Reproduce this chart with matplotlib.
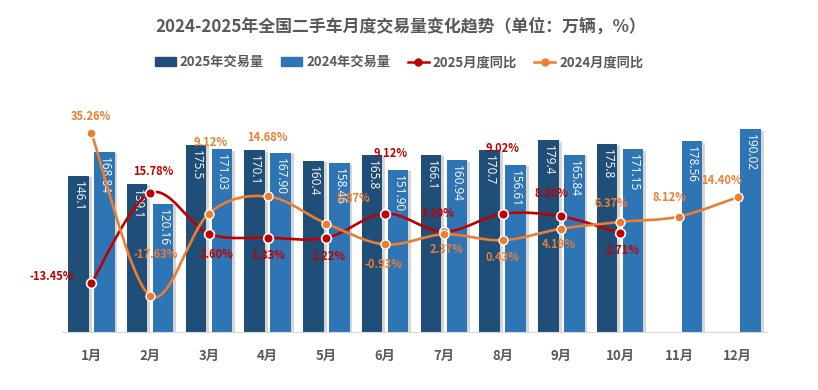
import numpy as np
import matplotlib
matplotlib.use("Agg")
import matplotlib.pyplot as plt
from matplotlib.path import Path
from matplotlib.patches import PathPatch, Patch
from matplotlib.lines import Line2D
import matplotlib.patheffects as pe

plt.rcParams['font.family'] = ['Noto Sans CJK SC', 'DejaVu Sans']

# data
months = ['1月', '2月', '3月', '4月', '5月', '6月', '7月', '8月', '9月', '10月', '11月', '12月']
vol_2025 = [146.1, 139.1, 175.5, 170.1, 160.4, 165.8, 166.1, 170.7, 179.4, 175.8]
vol_2024 = [168.84, 120.16, 171.03, 167.90, 158.46, 151.90, 160.94, 156.61, 165.84, 171.15, 178.56, 190.02]
yoy_2025 = [-13.45, 15.78, 2.60, 1.33, 1.22, 9.12, 3.20, 9.02, 8.20, 2.71]
yoy_2024 = [35.26, -17.63, 9.12, 14.68, 5.87, -0.93, 2.37, 0.43, 4.19, 6.37, 8.12, 14.40]

# label offsets in pixels (style only)
off_2025 = [(-40, 7), (3, 22), (8, -21), (0, -18), (2, -19), (5, 60), (-6, 18), (0, 65), (-10, 23), (2, -17)]
off_2024 = [(0, 17), (6, 41), (2, 71), (0, 59), (27, 25), (-2, -20), (3, -15), (0, -17), (-3, -16), (-9, 18), (-9, 19), (-16, 17)]

C25_BAR = '#1F4E79'
C24_BAR = '#2E75B6'
C25_LINE = '#C00000'
C24_LINE = '#ED7D31'
GRAY = '#595959'


def smooth_path(xs, ys):
    pts = np.column_stack([xs, ys])
    n = len(pts)
    verts = [pts[0]]
    codes = [Path.MOVETO]
    for i in range(n - 1):
        p0 = pts[i - 1] if i > 0 else pts[i]
        p1 = pts[i]
        p2 = pts[i + 1]
        p3 = pts[i + 2] if i + 2 < n else pts[i + 1]
        verts += [p1 + (p2 - p0) / 6, p2 - (p3 - p1) / 6, p2]
        codes += [Path.CURVE4] * 3
    return Path(verts, codes)


fig = plt.figure(figsize=(8.18, 3.9), dpi=100)
ax = fig.add_axes([62 / 818, 1 - 332 / 390, 705 / 818, 237 / 390])
ax2 = ax.twinx()

x = np.arange(len(months))
x25 = x[:len(vol_2025)]
w = 0.35
shadow = [pe.SimplePatchShadow(offset=(2, -1), shadow_rgbFace='#888888', alpha=0.35), pe.Normal()]
b25 = ax.bar(x25 - 0.22, vol_2025, w, color=C25_BAR, path_effects=shadow, zorder=2)
b24 = ax.bar(x + 0.22, vol_2024, w, color=C24_BAR, path_effects=shadow, zorder=2)

for bars, vals, fmt in [(b25, vol_2025, '{:.1f}'), (b24, vol_2024, '{:.2f}')]:
    for r, v in zip(bars, vals):
        ax.annotate(fmt.format(v), (r.get_x() + r.get_width() / 2, v),
                    xytext=(0, -5), textcoords='offset pixels',
                    rotation=270, ha='center', va='top', color='white',
                    fontsize=8.5, family=['Open Sans', 'DejaVu Sans'], zorder=3)

ax.set_xlim(-0.5, 11.5)
ax.set_ylim(0, 222)
ax.set_yticks([])
ax.set_xticks(x)
ax.set_xticklabels(months, fontsize=9.5, fontweight='bold', color=GRAY)
ax.tick_params(axis='x', length=0, pad=12)
for s in ['top', 'right', 'left']:
    ax.spines[s].set_visible(False)
ax.spines['bottom'].set_color('#D9D9D9')

ax2.set_ylim(-29.35, 47.6)
ax2.set_yticks([])
for s in ax2.spines.values():
    s.set_visible(False)

ax2.add_patch(PathPatch(smooth_path(x25, yoy_2025), fill=False, edgecolor=C25_LINE, lw=1.9, zorder=4))
ax2.plot(x25, yoy_2025, 'o', color=C25_LINE, mec='white', mew=1.2, ms=7, zorder=5)
ax2.add_patch(PathPatch(smooth_path(x, yoy_2024), fill=False, edgecolor=C24_LINE, lw=1.9, zorder=6))
ax2.plot(x, yoy_2024, 'o', color=C24_LINE, mec='white', mew=1.0, ms=6.5, zorder=7)

for xs, vals, offs, c in [(x25, yoy_2025, off_2025, C25_LINE), (x, yoy_2024, off_2024, C24_LINE)]:
    for xi, v, (dx, dy) in zip(xs, vals, offs):
        ax2.annotate(f'{v:.2f}%', (xi, v), xytext=(dx, dy), textcoords='offset pixels',
                     ha='center', va='center', color=c, fontsize=8, fontweight='bold', zorder=8)

fig.text(401 / 818, 1 - 27 / 390, '2024-2025年全国二手车月度交易量变化趋势（单位：万辆，%）',
         ha='center', va='center', fontsize=12.2, fontweight='bold', color=GRAY)

handles = [Patch(color=C25_BAR), Patch(color=C24_BAR),
           Line2D([], [], color=C25_LINE, marker='o', ms=5, lw=1.8),
           Line2D([], [], color=C24_LINE, marker='o', ms=5, lw=1.8)]
labels = ['2025年交易量', '2024年交易量', '2025月度同比', '2024月度同比']
fig.legend(handles, labels, loc='center', bbox_to_anchor=(399 / 818, 1 - 62 / 390), ncol=4,
           frameon=False, handlelength=1.6, handleheight=0.6, columnspacing=1.3, handletextpad=0.3,
           prop={'size': 9.5, 'weight': 'bold'}, labelcolor=GRAY)

fig.savefig('out.png', dpi=100, facecolor='white')
